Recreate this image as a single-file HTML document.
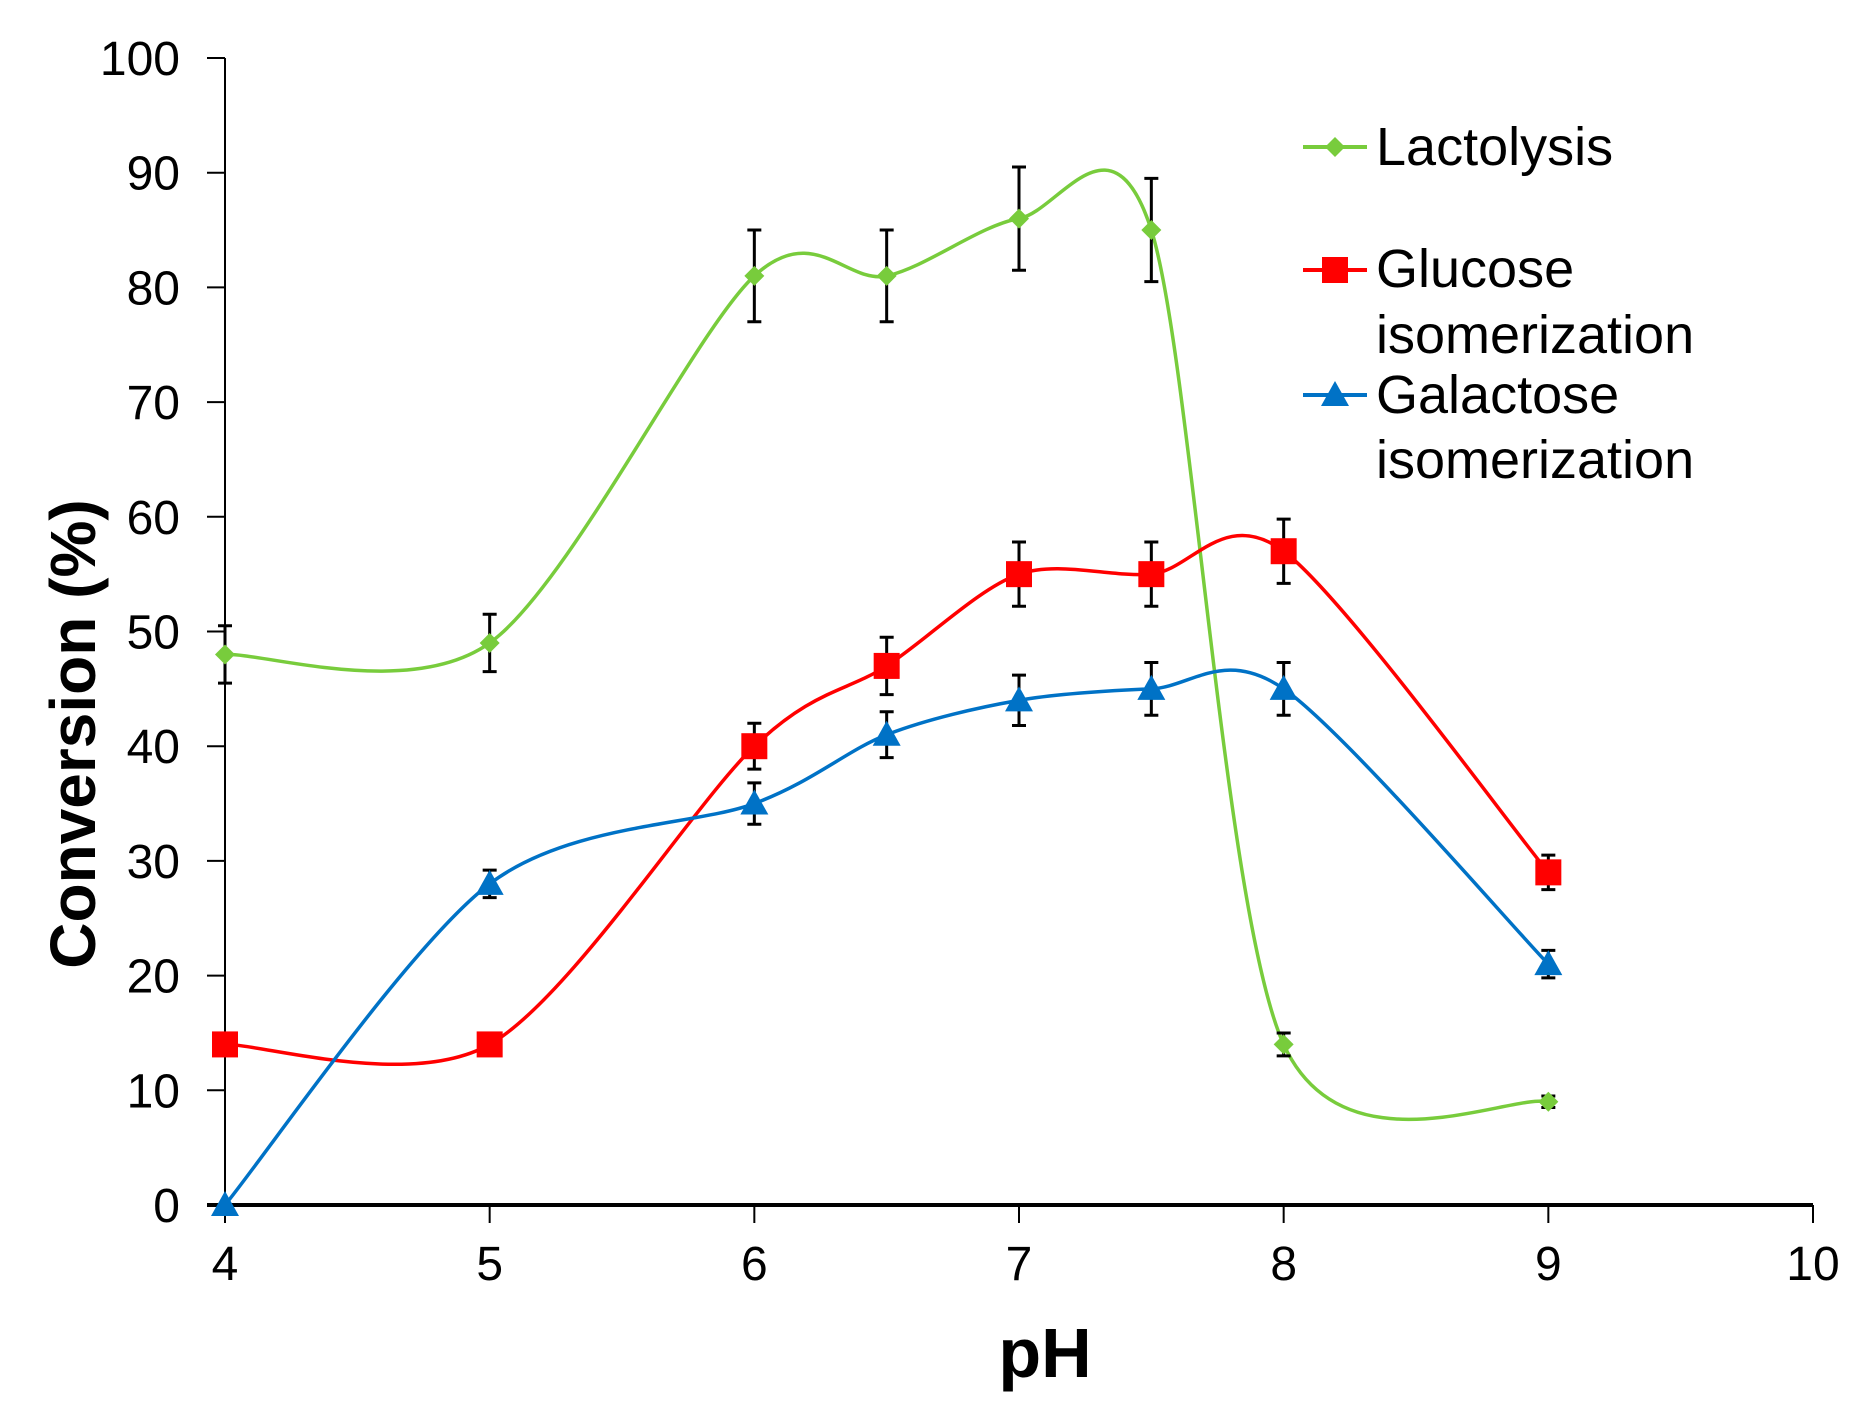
<!DOCTYPE html>
<html><head><meta charset="utf-8"><style>
html,body{margin:0;padding:0;background:#fff;}
svg{display:block;font-family:"Liberation Sans",Arial,sans-serif;}
</style></head><body>
<svg id="chart" width="1861" height="1424" viewBox="0 0 1861 1424" xmlns="http://www.w3.org/2000/svg">
<g id="axes"></g><g id="series"></g><g id="legend"></g>
<text x="0" y="0" transform="translate(95,734) rotate(-90)" text-anchor="middle" font-size="64" font-weight="bold">Conversion (%)</text>
<text x="1045" y="1377" text-anchor="middle" font-size="70" font-weight="bold">pH</text>
</svg>
<script>
const xCats = [4, 5, 6, 6.5, 7, 7.5, 8, 9];
const lactolysis = [48, 49, 81, 81, 86, 85, 14, 9];
const lactolysisErr = [2.5, 2.5, 4, 4, 4.5, 4.5, 1, 0.5];
const glucose = [14, 14, 40, 47, 55, 55, 57, 29];
const glucoseErr = [0, 0, 2, 2.5, 2.8, 2.8, 2.8, 1.5];
const galactose = [0, 28, 35, 41, 44, 45, 45, 21];
const galactoseErr = [0, 1.2, 1.8, 2, 2.2, 2.3, 2.3, 1.2];
const xTicks = [4, 5, 6, 7, 8, 9, 10];
const yTicks = [0, 10, 20, 30, 40, 50, 60, 70, 80, 90, 100];

const NS = "http://www.w3.org/2000/svg";
const X0 = 225, X1 = 1813, Y0 = 1205, Y1 = 58;
function sx(v){ return X0 + (v - 4) / 6 * (X1 - X0); }
function sy(v){ return Y0 - v / 100 * (Y0 - Y1); }
function mk(tag, attrs, parent){ const e = document.createElementNS(NS, tag); for (const k in attrs) e.setAttribute(k, attrs[k]); parent.appendChild(e); return e; }

const axes = document.getElementById('axes');
const yAxis = mk('line', {x1:X0, y1:Y1, x2:X0, y2:Y0, stroke:'#000', 'stroke-width':2}, axes);


const xAxis = mk('line', {x1:X0-18, y1:Y0, x2:X1, y2:Y0, stroke:'#000', 'stroke-width':4}, axes);


yTicks.forEach(t => {
  const y = sy(t);
  const tk = mk('line', {x1:X0-18, y1:y, x2:X0, y2:y, stroke:'#000', 'stroke-width':2}, axes);
  
  
  const lb = mk('text', {x:180, y:y+17, 'text-anchor':'end', 'font-size':48}, axes);
  lb.textContent = t;
  
  
});
xTicks.forEach(t => {
  const x = sx(t);
  const tk = mk('line', {x1:x, y1:Y0, x2:x, y2:Y0+18, stroke:'#000', 'stroke-width':2}, axes);
  
  
  const lb = mk('text', {x:x, y:1280, 'text-anchor':'middle', 'font-size':48}, axes);
  lb.textContent = t;
  
  
});

function spline(pts){
  let d = `M${pts[0][0]},${pts[0][1]}`;
  const t = 0.3;
  for (let i = 0; i < pts.length - 1; i++){
    const p0 = pts[i-1] || pts[i], p1 = pts[i], p2 = pts[i+1], p3 = pts[i+2] || p2;
    const c1x = p1[0] + (p2[0]-p0[0])*t/2, c1y = p1[1] + (p2[1]-p0[1])*t/2;
    const c2x = p2[0] - (p3[0]-p1[0])*t/2, c2y = p2[1] - (p3[1]-p1[1])*t/2;
    d += ` C${c1x},${c1y} ${c2x},${c2y} ${p2[0]},${p2[1]}`;
  }
  return d;
}
function marker(shape, x, y, color, parent){
  if (shape === 'diamond') return mk('polygon', {points:`${x},${y-10} ${x+10},${y} ${x},${y+10} ${x-10},${y}`, fill:color}, parent);
  if (shape === 'square') return mk('rect', {x:x-13, y:y-13, width:26, height:26, fill:color}, parent);
  return mk('polygon', {points:`${x},${y-14} ${x+14},${y+11} ${x-14},${y+11}`, fill:color}, parent);
}
const seriesDefs = [
  {name:'lactolysis', vals:lactolysis, err:lactolysisErr, color:'#78cc3c', shape:'diamond'},
  {name:'glucose-isomerization', vals:glucose, err:glucoseErr, color:'#ff0000', shape:'square'},
  {name:'galactose-isomerization', vals:galactose, err:galactoseErr, color:'#0072c6', shape:'triangle'}
];
const sg = document.getElementById('series');
seriesDefs.forEach(s => {
  const g = mk('g', {}, sg);
  
  
  const pts = xCats.map((c, i) => [sx(c), sy(s.vals[i])]);
  const path = mk('path', {d:spline(pts), fill:'none', stroke:s.color, 'stroke-width':3.5}, g);
  
  
  xCats.forEach((c, i) => {
    if (s.err[i] > 0){
      const x = sx(c), ya = sy(s.vals[i] + s.err[i]), yb = sy(s.vals[i] - s.err[i]);
      const eb = mk('path', {d:`M${x},${ya} V${yb} M${x-7},${ya} H${x+7} M${x-7},${yb} H${x+7}`, stroke:'#000', 'stroke-width':3, fill:'none'}, g);
      
      
    }
    const m = marker(s.shape, sx(c), sy(s.vals[i]), s.color, g);
    
    
  });
});

const lg = document.getElementById('legend');
const legendRows = [
  {s:seriesDefs[0], my:147, lines:[['Lactolysis',165]]},
  {s:seriesDefs[1], my:270, lines:[['Glucose',287],['isomerization',353]]},
  {s:seriesDefs[2], my:395, lines:[['Galactose',413],['isomerization',478]]}
];
legendRows.forEach(r => {
  const g = mk('g', {}, lg);
  
  
  mk('line', {x1:1303, y1:r.my, x2:1367, y2:r.my, stroke:r.s.color, 'stroke-width':4}, g);
  marker(r.s.shape, 1335, r.my, r.s.color, g);
  r.lines.forEach(([txt, y]) => {
    const t = mk('text', {x:1376, y:y, 'font-size':54}, g);
    t.textContent = txt;
    
    
  });
});
</script>
</body></html>
